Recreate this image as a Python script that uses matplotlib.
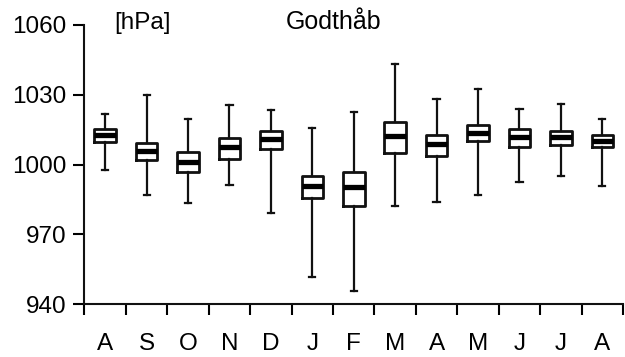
import matplotlib
matplotlib.use("Agg")
import matplotlib.pyplot as plt
from matplotlib.ticker import FixedLocator, NullFormatter

plt.rcParams['font.family'] = ['Liberation Sans', 'DejaVu Sans']

months = ["A", "S", "O", "N", "D", "J", "F", "M", "A", "M", "J", "J", "A"]
whis_low = [997.8, 987.0, 983.4, 991.2, 979.1, 951.8, 945.8, 982.3, 983.8, 986.8, 992.4, 995.1, 990.9]
q1 = [1009.7, 1001.9, 997.0, 1002.6, 1006.7, 985.7, 982.2, 1005.1, 1003.6, 1010.0, 1007.7, 1008.3, 1007.7]
median = [1012.7, 1005.7, 1001.3, 1007.7, 1010.9, 990.8, 990.4, 1012.2, 1008.7, 1013.6, 1011.9, 1011.9, 1010.3]
q3 = [1015.4, 1009.4, 1005.3, 1011.3, 1014.6, 995.1, 997.0, 1018.3, 1012.9, 1017.0, 1015.4, 1014.6, 1012.6]
whis_high = [1021.8, 1030.0, 1019.7, 1025.5, 1023.5, 1015.6, 1022.7, 1043.1, 1028.2, 1032.4, 1023.8, 1025.9, 1019.5]
yticks = [940, 970, 1000, 1030, 1060]

stats = []
for i in range(len(months)):
    stats.append(dict(whislo=whis_low[i], q1=q1[i], med=median[i],
                      q3=q3[i], whishi=whis_high[i], fliers=[]))

fig = plt.figure(figsize=(6.25, 3.57), dpi=100)
ax = fig.add_axes([0.1352, 0.1476, 0.8616, 0.7824])

pos = list(range(1, len(months) + 1))
ax.bxp(stats, positions=pos, widths=0.52, capwidths=0.15, showfliers=False,
       boxprops=dict(color="#111111", linewidth=2.0),
       whiskerprops=dict(color="#111111", linewidth=1.6),
       capprops=dict(color="#111111", linewidth=1.6),
       medianprops=dict(color="black", linewidth=3.8, solid_capstyle="butt"),
       manage_ticks=False)

ax.set_ylim(940, 1060)
ax.set_xlim(0.5, len(months) + 0.5)
ax.set_yticks(yticks)
ax.tick_params(axis="y", labelsize=17.5, length=8, width=1.5, pad=5)

# boundaries as major ticks, month letters on minor ticks
ax.xaxis.set_major_locator(FixedLocator([p - 0.5 for p in pos] + [pos[-1] + 0.5]))
ax.xaxis.set_major_formatter(NullFormatter())
ax.xaxis.set_minor_locator(FixedLocator(pos))
ax.set_xticklabels(months, minor=True)
ax.tick_params(axis="x", which="major", length=8, width=1.5)
ax.tick_params(axis="x", which="minor", length=0, labelsize=17.5, pad=21)

for s in ["top", "right"]:
    ax.spines[s].set_visible(False)
for s in ["left", "bottom"]:
    ax.spines[s].set_linewidth(1.5)
    ax.spines[s].set_color("#111111")

fig.text(114 / 625, 1 - 23 / 357, "[hPa]", fontsize=17.5, va="center", ha="left")
fig.text(334 / 625, 1 - 22 / 357, "Godthåb", fontsize=18, va="center", ha="center")

fig.savefig("out.png", dpi=100)
